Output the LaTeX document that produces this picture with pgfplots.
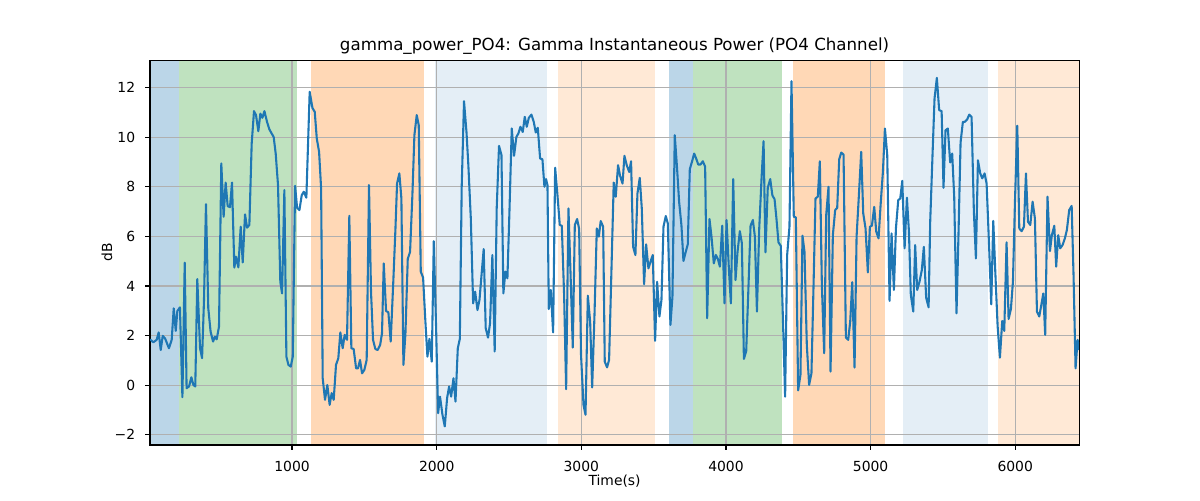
\documentclass[border=0pt]{standalone}
\usepackage{pgfplots}
\pgfplotsset{compat=1.18}
\usepackage{pgfplotstable}
\usepackage{fontspec}
\setmainfont{DejaVu Sans}
\definecolor{tabblue}{RGB}{31,119,180}
\definecolor{tabgreen}{RGB}{44,160,44}
\definecolor{taborange}{RGB}{255,127,14}
\definecolor{gridgray}{RGB}{176,176,176}
\pgfplotstableread{
t v
18 1.85
41 1.73
64 1.83
78 2.13
92 1.42
106 1.99
122 1.89
149 1.49
168 1.83
182 3.10
196 2.19
207 2.99
225 3.14
242 -0.48
258 4.94
271 -0.12
288 -0.05
304 0.32
318 0.01
331 -0.05
345 4.28
364 1.49
378 1.09
391 3.37
405 7.30
421 3.10
437 2.16
454 1.76
467 1.96
479 1.85
495 2.36
511 8.94
527 6.79
541 8.17
555 7.22
571 7.18
585 8.17
601 4.74
613 5.18
629 4.75
645 6.39
659 4.95
675 6.89
689 6.35
705 6.46
721 9.74
737 11.05
751 10.89
767 10.24
781 10.95
795 10.78
809 11.05
827 10.62
843 10.32
859 10.15
873 10.01
887 9.34
903 8.07
919 4.17
931 3.70
947 7.87
961 1.15
975 0.82
991 0.75
1005 1.15
1021 8.04
1035 7.15
1051 7.06
1067 7.66
1081 7.80
1099 7.56
1122 11.83
1141 11.18
1157 11.02
1171 9.95
1187 9.41
1201 7.93
1212 0.28
1228 -0.59
1244 0.01
1260 -0.79
1274 -0.32
1288 -0.59
1304 0.82
1320 1.09
1334 2.13
1350 1.49
1364 2.03
1380 1.83
1396 6.83
1410 1.49
1426 1.46
1443 0.68
1456 0.68
1470 1.02
1484 0.48
1500 0.62
1516 1.02
1532 8.07
1546 3.77
1560 1.83
1576 1.46
1592 1.42
1609 1.62
1622 2.09
1634 4.91
1650 2.99
1666 2.94
1682 1.76
1701 4.31
1715 6.32
1726 8.13
1742 8.54
1756 7.53
1770 0.82
1784 2.09
1800 5.09
1816 5.38
1832 7.66
1846 10.08
1862 10.89
1876 10.48
1890 4.58
1906 4.34
1922 2.56
1936 1.15
1950 1.87
1966 0.95
1980 5.81
1996 2.30
2010 -1.13
2023 -0.46
2040 -1.19
2056 -1.66
2072 -0.52
2086 -0.05
2100 -0.46
2116 0.28
2130 -0.66
2146 1.49
2160 1.87
2173 8.00
2189 11.45
2206 10.21
2219 8.87
2236 6.72
2252 3.30
2266 3.77
2282 3.03
2296 3.44
2312 4.58
2325 5.49
2339 2.30
2355 1.92
2369 2.50
2385 5.25
2401 1.36
2415 7.13
2431 9.65
2448 9.28
2461 3.70
2475 4.58
2489 4.31
2503 6.99
2519 10.35
2535 9.25
2551 10.01
2565 10.15
2579 10.42
2595 10.21
2609 10.82
2623 10.42
2637 10.78
2655 10.91
2671 10.62
2685 10.19
2699 10.38
2715 9.14
2731 9.11
2745 8.00
2756 8.31
2766 8.07
2775 3.07
2789 3.84
2805 2.13
2819 8.77
2835 7.66
2851 6.46
2865 6.43
2881 3.64
2895 -0.16
2911 7.13
2925 4.58
2941 1.52
2955 6.46
2971 6.70
2985 6.30
2998 1.22
3015 -0.79
3029 -1.19
3045 3.61
3061 2.56
3075 -0.09
3091 2.83
3107 6.32
3121 5.99
3134 6.62
3151 6.39
3162 0.95
3178 0.72
3192 1.02
3208 4.58
3224 8.17
3238 7.60
3254 8.87
3268 8.44
3285 8.13
3298 9.25
3314 8.87
3331 8.60
3344 9.03
3358 5.58
3374 5.25
3388 7.73
3404 8.36
3418 7.13
3434 4.07
3448 5.68
3464 4.71
3480 5.01
3494 5.25
3510 1.79
3524 4.17
3540 2.77
3554 3.44
3568 6.39
3584 6.82
3598 6.52
3616 2.43
3630 3.57
3646 10.08
3662 8.74
3676 7.40
3692 6.46
3706 5.01
3722 5.38
3736 5.68
3750 8.71
3766 9.03
3780 9.34
3794 9.14
3808 8.90
3824 8.90
3840 9.03
3856 8.81
3870 2.70
3886 6.70
3900 5.99
3916 4.91
3930 5.25
3944 5.09
3958 4.78
3974 6.43
3990 3.30
4004 6.66
4020 4.71
4034 3.30
4050 8.31
4066 4.24
4080 5.38
4096 6.21
4110 5.72
4124 1.06
4140 1.38
4156 4.04
4170 6.43
4186 6.66
4200 5.99
4214 2.97
4230 6.32
4246 8.34
4260 9.84
4273 5.36
4289 7.96
4306 8.31
4321 7.65
4336 7.50
4349 6.72
4363 5.76
4379 5.62
4393 2.83
4409 -0.46
4423 5.25
4439 6.39
4453 12.26
4469 6.79
4483 6.77
4499 -0.21
4515 0.42
4529 6.03
4543 5.38
4559 1.62
4575 0.01
4591 0.48
4605 3.91
4619 7.53
4635 7.60
4649 9.03
4663 4.04
4679 1.29
4693 6.86
4709 8.00
4723 0.55
4739 6.05
4755 7.06
4769 7.15
4783 9.11
4797 9.38
4813 9.30
4829 1.92
4845 1.83
4859 2.56
4873 4.15
4889 0.71
4903 5.99
4919 7.66
4935 9.41
4949 6.93
4965 6.32
4981 4.55
4995 6.39
5009 6.43
5025 7.19
5039 6.19
5055 5.92
5069 7.26
5085 8.60
5099 10.35
5115 9.28
5131 3.40
5145 6.12
5161 3.84
5175 6.32
5191 7.46
5205 7.53
5219 8.24
5235 5.52
5251 7.56
5265 6.19
5278 3.64
5295 2.97
5308 5.65
5322 3.84
5338 4.17
5354 4.64
5368 5.58
5384 3.53
5401 3.14
5412 6.59
5428 9.28
5442 11.56
5458 12.39
5474 11.09
5491 11.05
5504 7.96
5518 10.28
5534 10.35
5550 8.98
5564 9.34
5578 7.60
5594 2.90
5608 6.19
5622 9.79
5638 10.62
5652 10.62
5668 10.72
5682 10.91
5698 10.82
5714 6.99
5728 5.11
5742 9.07
5758 8.54
5772 8.34
5788 8.54
5802 8.13
5818 5.79
5834 3.26
5848 6.62
5862 4.58
5878 2.40
5894 1.11
5910 2.59
5924 2.19
5940 5.76
5954 2.67
5970 3.07
5984 4.17
5998 7.40
6014 10.46
6028 6.32
6044 6.21
6060 6.39
6074 8.54
6088 6.59
6104 6.46
6120 7.40
6136 6.72
6150 2.97
6166 2.77
6180 3.23
6194 3.70
6207 2.03
6223 7.60
6240 5.41
6253 6.05
6270 6.43
6283 4.78
6297 6.05
6311 5.52
6327 5.65
6343 5.92
6357 6.26
6373 7.06
6390 7.23
6403 4.44
6417 0.68
6431 1.83
6442 1.42
}\datatable
\begin{document}
\begin{tikzpicture}
\begin{axis}[
  set layers,
  scale only axis, width=669pt, height=277pt,
  xmin=18, xmax=6442, ymin=-2.41, ymax=13.1,
  xtick={1000,2000,3000,4000,5000,6000},
  xticklabels={1000,2000,3000,4000,5000,6000},
  ytick={-2,0,2,4,6,8,10,12},
  yticklabels={−2,0,2,4,6,8,10,12},
  tick pos=left, tick align=outside, major tick length=3.5pt,
  every tick/.style={black, line width=0.8pt},
  grid=major, major grid style={color=gridgray, line width=0.8pt},
  axis line style={black, line width=0.8pt},
  ticklabel style={font=\fontsize{10}{12}\selectfont},
  xticklabel style={anchor=center, inner sep=0pt, yshift=-12pt},
  yticklabel style={anchor=east, inner sep=0pt, xshift=-7pt},
  xlabel={Time(s)}, ylabel={dB},
  label style={font=\fontsize{10}{12}\selectfont},
  xlabel style={at={(axis description cs:0.5,-0.094)}, anchor=center, inner sep=0pt},
  ylabel style={at={(axis description cs:-0.0463,0.5)}, anchor=center, inner sep=0pt},
  title={gamma\_power\_PO4: Gamma Instantaneous Power (PO4 Channel)},
  title style={font=\fontsize{12}{14}\selectfont, at={(axis description cs:0.5,1)}, anchor=center, inner sep=0pt, yshift=4.1pt},
]
\addplot[on layer=axis background, draw=none, fill=tabblue, fill opacity=0.3] coordinates {(18,-2.41) (18,13.1) (218,13.1) (218,-2.41)} -- cycle;
\addplot[on layer=axis background, draw=none, fill=tabgreen, fill opacity=0.3] coordinates {(218,-2.41) (218,13.1) (1033,13.1) (1033,-2.41)} -- cycle;
\addplot[on layer=axis background, draw=none, fill=taborange, fill opacity=0.3] coordinates {(1131,-2.41) (1131,13.1) (1911,13.1) (1911,-2.41)} -- cycle;
\addplot[on layer=axis background, draw=none, fill=tabblue, fill opacity=0.12] coordinates {(1989,-2.41) (1989,13.1) (2763,13.1) (2763,-2.41)} -- cycle;
\addplot[on layer=axis background, draw=none, fill=taborange, fill opacity=0.17] coordinates {(2840,-2.41) (2840,13.1) (3508,13.1) (3508,-2.41)} -- cycle;
\addplot[on layer=axis background, draw=none, fill=tabblue, fill opacity=0.3] coordinates {(3607,-2.41) (3607,13.1) (3775,13.1) (3775,-2.41)} -- cycle;
\addplot[on layer=axis background, draw=none, fill=tabgreen, fill opacity=0.3] coordinates {(3775,-2.41) (3775,13.1) (4386,13.1) (4386,-2.41)} -- cycle;
\addplot[on layer=axis background, draw=none, fill=taborange, fill opacity=0.3] coordinates {(4465,-2.41) (4465,13.1) (5099,13.1) (5099,-2.41)} -- cycle;
\addplot[on layer=axis background, draw=none, fill=tabblue, fill opacity=0.12] coordinates {(5225,-2.41) (5225,13.1) (5813,13.1) (5813,-2.41)} -- cycle;
\addplot[on layer=axis background, draw=none, fill=taborange, fill opacity=0.17] coordinates {(5882,-2.41) (5882,13.1) (6442,13.1) (6442,-2.41)} -- cycle;
\addplot[color=tabblue, line width=1.5pt, line join=round, no markers] table[x=t, y=v] {\datatable};
\end{axis}
\path[use as bounding box] (-108pt,-39.6pt) rectangle (756pt,320.4pt);
\end{tikzpicture}
\end{document}
